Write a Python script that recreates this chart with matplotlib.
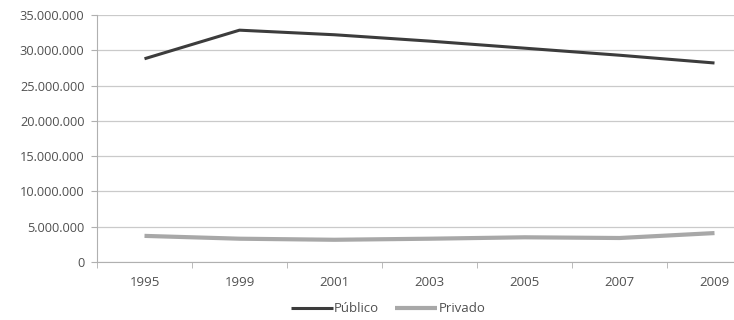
import matplotlib
matplotlib.use("Agg")
import matplotlib.pyplot as plt
from matplotlib.ticker import FuncFormatter, MultipleLocator, FixedLocator

years = ["1995", "1999", "2001", "2003", "2005", "2007", "2009"]
publico = [28_800_000, 32_850_000, 32_200_000, 31_300_000, 30_300_000, 29_300_000, 28_200_000]
privado = [3_700_000, 3_300_000, 3_150_000, 3_300_000, 3_500_000, 3_400_000, 4_100_000]

plt.rcParams["font.family"] = ["Open Sans", "DejaVu Sans"]

fig = plt.figure(figsize=(7.34, 3.2), dpi=100)
ax = fig.add_axes([97 / 734, 58 / 320, 665 / 734, 247 / 320])

x = list(range(len(years)))
ax.plot(x, publico, color="#3c3c3c", lw=2.2, solid_capstyle="butt", label="Público")
ax.plot(x, privado, color="#a8a8a8", lw=3.0, solid_capstyle="butt", label="Privado")

ax.set_xlim(-0.5, len(years) - 0.5)
ax.set_ylim(0, 35_000_000)
ax.yaxis.set_major_locator(MultipleLocator(5_000_000))
ax.yaxis.set_major_formatter(FuncFormatter(lambda v, p: f"{int(v):,}".replace(",", ".")))
ax.set_xticks(x)
ax.set_xticklabels(years)
ax.xaxis.set_minor_locator(FixedLocator([i - 0.5 for i in range(len(years) + 1)]))

ax.grid(axis="y", color="#cacaca", lw=0.9)
ax.set_axisbelow(True)
for s in ["top", "right"]:
    ax.spines[s].set_visible(False)
ax.spines["left"].set_color("#b0b0b0")
ax.spines["bottom"].set_color("#b0b0b0")
ax.tick_params(axis="y", length=4, color="#b0b0b0", labelsize=9.2, labelcolor="#505050", pad=5)
ax.tick_params(axis="x", which="major", length=0, labelsize=9.5, labelcolor="#505050", pad=10)
ax.tick_params(axis="x", which="minor", length=4, color="#b0b0b0")

fig.legend(loc="center", bbox_to_anchor=(388 / 734, 1 - 309 / 320), ncol=2, frameon=False,
           fontsize=9.5, handlelength=3.2, handletextpad=0.1, columnspacing=1.2,
           labelcolor="#505050")

fig.savefig("out.png", dpi=100)
